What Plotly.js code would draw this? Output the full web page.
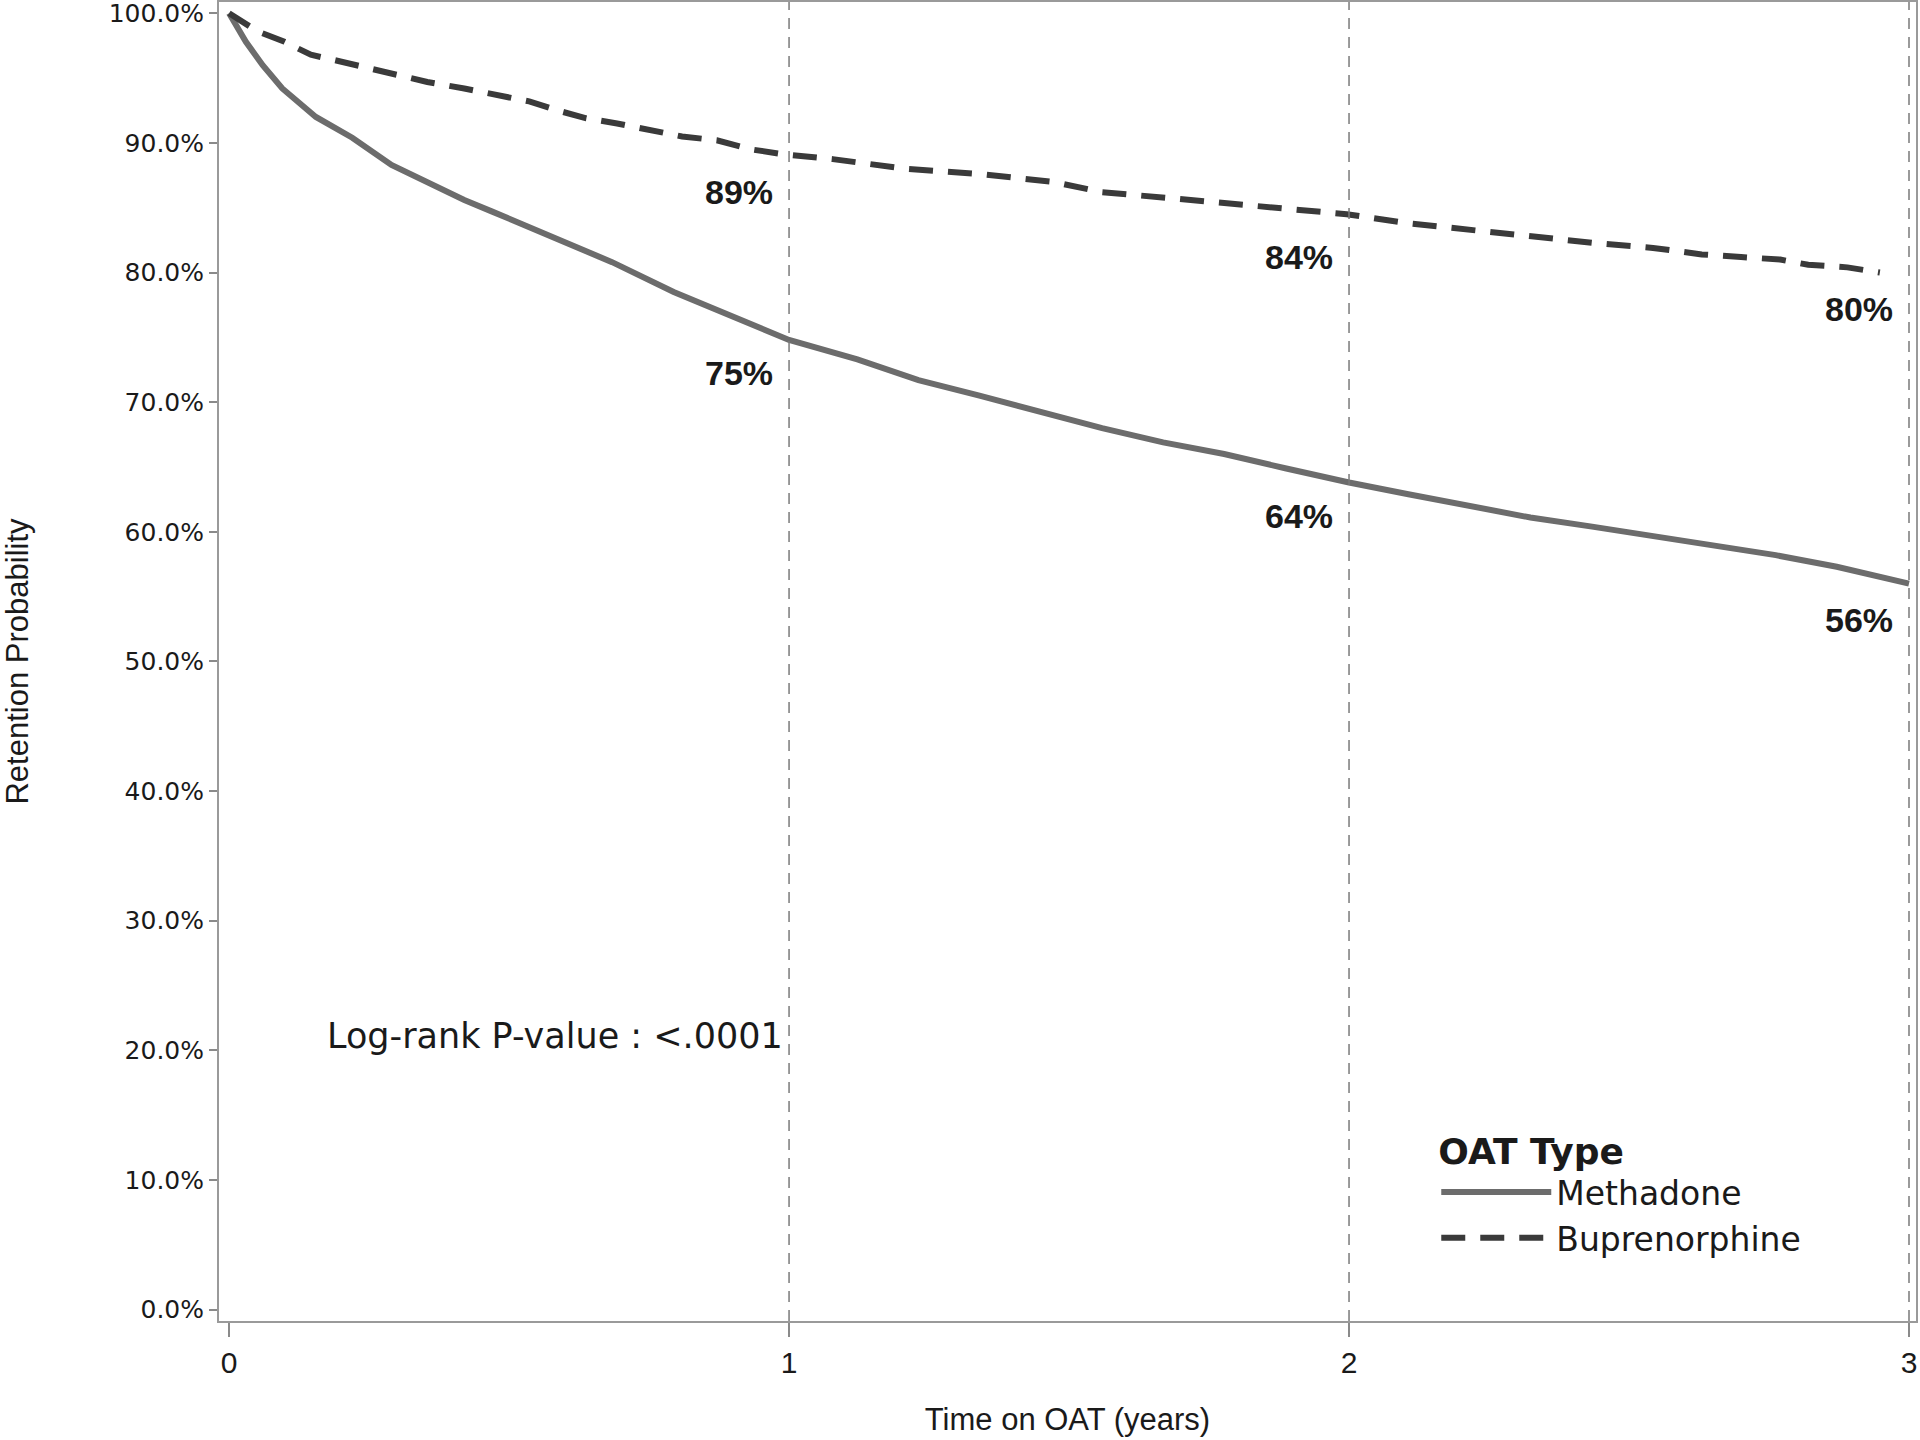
<!DOCTYPE html>
<html>
<head>
<meta charset="utf-8">
<script src="https://cdn.plot.ly/plotly-3.0.1.min.js"></script>
<style>html,body{margin:0;padding:0;background:#fff;}#chart{width:1920px;height:1440px;}</style>
</head>
<body>
<div id="chart"></div>
<script>
// ---- data ----
const seriesNames = ['Methadone', 'Buprenorphine'];
const methadoneYears = [0, 0.01, 0.03, 0.06, 0.095, 0.155, 0.22, 0.29, 0.36, 0.42, 0.47, 0.575, 0.684, 0.794, 0.903, 1.0, 1.122, 1.231, 1.34, 1.45, 1.559, 1.668, 1.777, 1.886, 2.0, 2.106, 2.215, 2.324, 2.434, 2.543, 2.652, 2.762, 2.871, 3.0];
const methadoneRetention = [100, 99.2, 97.8, 96.0, 94.2, 92.0, 90.4, 88.3, 86.8, 85.6, 84.7, 82.8, 80.8, 78.5, 76.6, 74.8, 73.3, 71.7, 70.5, 69.2, 68.0, 66.9, 66.0, 64.9, 63.8, 62.9, 62.0, 61.1, 60.4, 59.7, 59.0, 58.2, 57.3, 56.0];
const buprenorphineYears = [0, 0.051, 0.099, 0.146, 0.197, 0.249, 0.30, 0.354, 0.42, 0.485, 0.536, 0.587, 0.638, 0.693, 0.751, 0.809, 0.871, 0.932, 0.994, 1.078, 1.209, 1.34, 1.471, 1.559, 1.69, 1.799, 1.909, 1.996, 2.106, 2.215, 2.324, 2.434, 2.543, 2.63, 2.70, 2.77, 2.82, 2.89, 2.948];
const buprenorphineRetention = [100, 98.6, 97.8, 96.8, 96.3, 95.8, 95.2, 94.7, 94.2, 93.7, 93.2, 92.5, 91.9, 91.5, 91.0, 90.5, 90.2, 89.5, 89.1, 88.75, 88.0, 87.6, 87.0, 86.2, 85.7, 85.3, 84.8, 84.5, 83.8, 83.3, 82.7, 82.3, 81.9, 81.4, 81.2, 81.0, 80.6, 80.4, 80.0];
const xTickVals = [0, 1, 2, 3];
const yTickVals = [0, 10, 20, 30, 40, 50, 60, 70, 80, 90, 100];
const markerYears = [1, 2, 3];
const buprenorphineAtMarkers = [89, 84, 80];
const methadoneAtMarkers = [75, 64, 56];
const pValueText = 'Log-rank P-value : <.0001';
const pValuePos = {x: 0.171, y: 21.1};

// ---- styles ----
const textColor = '#1a1a1a';
const frameColor = '#9a9a9a';

const traces = [
  {x: methadoneYears, y: methadoneRetention, name: seriesNames[0], type: 'scatter', mode: 'lines',
   line: {color: '#6c6c6c', width: 6}},
  {x: buprenorphineYears, y: buprenorphineRetention, name: seriesNames[1], type: 'scatter', mode: 'lines',
   line: {color: '#3a3a3a', width: 6, dash: '24px,15px'}}
];

const annotations = [];
function addLabels(vals) {
  vals.forEach((v, i) => {
    annotations.push({x: markerYears[i], y: v, xref: 'x', yref: 'y', text: v + '%', showarrow: false,
      xanchor: 'right', yanchor: 'middle', xshift: -14, yshift: -36,
      font: {family: 'Liberation Sans', size: 34, color: textColor, weight: 'bold'}});
  });
}
addLabels(buprenorphineAtMarkers);
addLabels(methadoneAtMarkers);
annotations.push({x: pValuePos.x, y: pValuePos.y, xref: 'x', yref: 'y', text: pValueText, showarrow: false,
  xanchor: 'left', yanchor: 'middle', font: {family: 'DejaVu Sans', size: 35, color: textColor}});

const shapes = markerYears.map(t => ({type: 'line', xref: 'x', yref: 'paper', x0: t, x1: t, y0: 0, y1: 1,
  line: {color: '#7a7a7a', width: 1.5, dash: '11px,8px'}}));

const layout = {
  width: 1920, height: 1440,
  margin: {l: 219, r: 4, t: 2, b: 119},
  paper_bgcolor: '#fff', plot_bgcolor: '#fff',
  showlegend: true,
  xaxis: {range: [-0.018, 3.0125], tickvals: xTickVals, ticktext: xTickVals.map(String),
    showgrid: false, zeroline: false, showline: true, mirror: true, linecolor: frameColor, linewidth: 2,
    ticks: 'outside', ticklen: 14, tickwidth: 2, tickcolor: '#8a8a8a', ticklabeloverflow: 'allow',
    tickfont: {family: 'Liberation Sans', size: 30, color: textColor},
    title: {text: 'Time on OAT (years)', standoff: 30, font: {family: 'Liberation Sans', size: 31, color: textColor}}},
  yaxis: {range: [-0.88, 100.87], tickvals: yTickVals, ticktext: yTickVals.map(v => v.toFixed(1) + '%'),
    showgrid: false, zeroline: false, showline: true, mirror: true, linecolor: frameColor, linewidth: 2,
    ticks: 'outside', ticklen: 8, tickwidth: 2, tickcolor: '#8a8a8a', ticklabeloverflow: 'allow',
    tickfont: {family: 'DejaVu Sans', size: 25, color: textColor},
    title: {text: 'Retention Probability', standoff: 90, font: {family: 'Liberation Sans', size: 31, color: textColor}}},
  legend: {x: 0.7173, y: 0.1545, xanchor: 'left', yanchor: 'top', bgcolor: 'rgba(0,0,0,0)',
    itemwidth: 110, tracegroupgap: 0,
    font: {family: 'DejaVu Sans', size: 33, color: textColor},
    title: {text: 'OAT Type', font: {family: 'DejaVu Sans', size: 36, color: textColor, weight: 'bold'}}},
  annotations: annotations,
  shapes: shapes
};

Plotly.newPlot('chart', traces, layout, {displayModeBar: false, staticPlot: true});
</script>
</body>
</html>
